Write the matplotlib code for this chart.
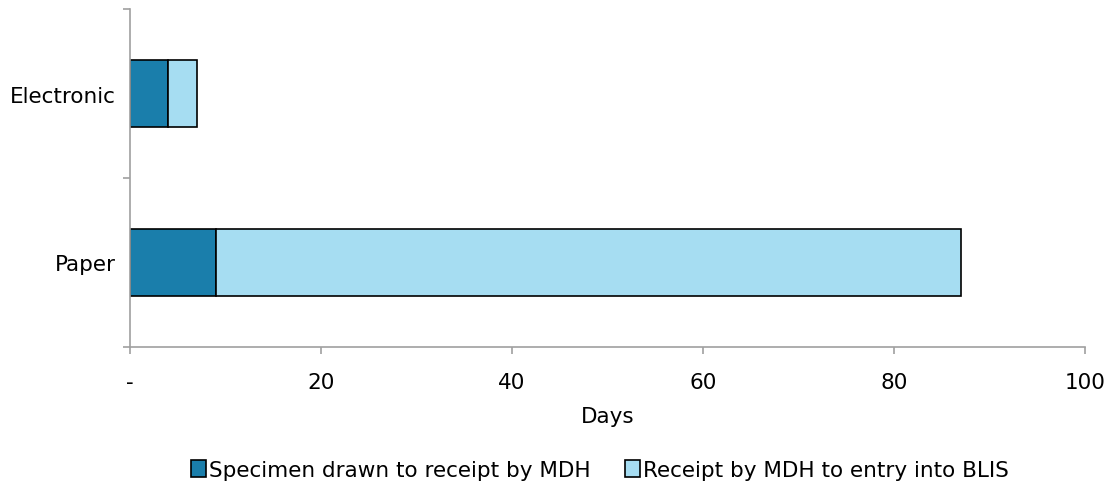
import numpy as np
import matplotlib.pyplot as plt
from matplotlib.ticker import FixedLocator

plt.rcParams['font.family'] = ['DejaVu Sans']

categories = ['Paper', 'Electronic']
drawn_to_receipt = [9, 4]
receipt_to_entry = [78, 3]
series_names = ['Specimen drawn to receipt by MDH', 'Receipt by MDH to entry into BLIS']
xticks = [0, 20, 40, 60, 80, 100]
xticklabels = ['-', '20', '40', '60', '80', '100']

dark = '#1A7EAB'
light = '#A6DDF2'
grey = '#A0A0A0'
fs = 15.5

fig = plt.figure(figsize=(11.17, 5.02), dpi=100)
ax = fig.add_axes([0.1164, 0.3068, 0.855, 0.6732])

y = np.arange(len(categories))
ax.barh(y, drawn_to_receipt, height=0.4, color=dark, edgecolor='black', linewidth=1.2,
        label=series_names[0])
ax.barh(y, receipt_to_entry, left=drawn_to_receipt, height=0.4, color=light,
        edgecolor='black', linewidth=1.2, label=series_names[1])

ax.set_xlim(0, 100)
ax.set_ylim(-0.5, 1.5)
ax.set_xticks(xticks)
ax.set_xticklabels(xticklabels, fontsize=fs)
ax.set_yticks(y)
ax.set_yticklabels(categories, fontsize=fs)
ax.yaxis.set_minor_locator(FixedLocator([-0.5, 0.5, 1.5]))
ax.tick_params(axis='y', which='major', length=0, pad=10)
ax.tick_params(axis='y', which='minor', length=5, color=grey, width=1.2)
ax.tick_params(axis='x', length=5, color=grey, width=1.2, pad=13)

for s in ['top', 'right']:
    ax.spines[s].set_visible(False)
for s in ['left', 'bottom']:
    ax.spines[s].set_color(grey)
    ax.spines[s].set_linewidth(1.2)

ax.set_xlabel('Days', fontsize=fs, labelpad=10)

fig.legend(loc='center', bbox_to_anchor=(0.537, 0.062), ncol=2, frameon=False,
           fontsize=fs, handlelength=0.7, handleheight=0.8, handletextpad=0.15,
           columnspacing=1.6)

fig.savefig('out.png', dpi=100)
